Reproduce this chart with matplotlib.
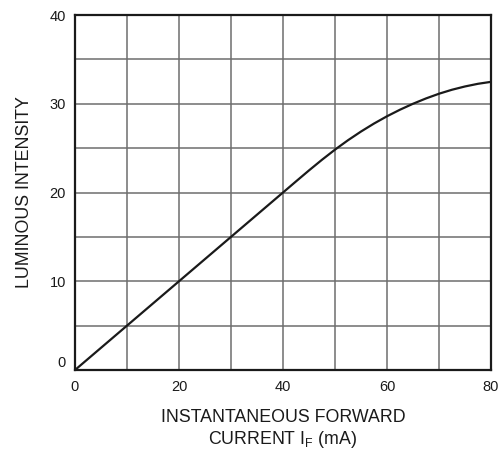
import matplotlib
matplotlib.use("Agg")
import matplotlib.pyplot as plt
from matplotlib.ticker import MultipleLocator

plt.rcParams['font.family'] = ['Liberation Sans', 'DejaVu Sans']

# curve
current_ma = [0, 10, 20, 30, 40, 42.5, 45, 47.5, 50, 52.5, 55, 57.5, 60,
              62.5, 65, 67.5, 70, 72.5, 75, 77.5, 80]
intensity = [0, 5, 10, 15, 20, 21.25, 22.49, 23.69, 24.83, 25.89, 26.87, 27.77, 28.59,
             29.33, 30.0, 30.6, 31.13, 31.58, 31.95, 32.25, 32.47]

x_ticks = [0, 20, 40, 60, 80]
y_ticks = [0, 10, 20, 30, 40]

fig = plt.figure(figsize=(5.01, 4.51), dpi=100)
ax = fig.add_axes([0.1497, 0.1796, 0.8303, 0.7871])

ax.plot(current_ma, intensity, color='#1a1a1a', lw=1.6, zorder=3)

ax.set_xlim(0, 80)
ax.set_ylim(0, 40)
ax.set_xticks(x_ticks)
ax.set_yticks(y_ticks)
ax.xaxis.set_minor_locator(MultipleLocator(10))
ax.yaxis.set_minor_locator(MultipleLocator(5))
ax.grid(True, which='both', color='#6e6e6e', lw=1.1)
ax.tick_params(which='both', length=0, labelsize=10.5, colors='#1a1a1a')
ax.tick_params(axis='y', pad=6.5)
ax.tick_params(axis='x', pad=7)
# the bottom "0" sits just above the corner
ax.get_yticklabels()[0].set_va('bottom')

for s in ax.spines.values():
    s.set_linewidth(1.6)
    s.set_color('#1a1a1a')
    s.set_zorder(4)

ax.set_xlabel('INSTANTANEOUS FORWARD\nCURRENT I$_\\mathregular{F}$ (mA)', fontsize=12.8,
              labelpad=11, linespacing=1.2, color='#1a1a1a')
ax.set_ylabel('LUMINOUS INTENSITY', fontsize=12.8, labelpad=12, color='#1a1a1a')

fig.savefig('out.png', dpi=100)
